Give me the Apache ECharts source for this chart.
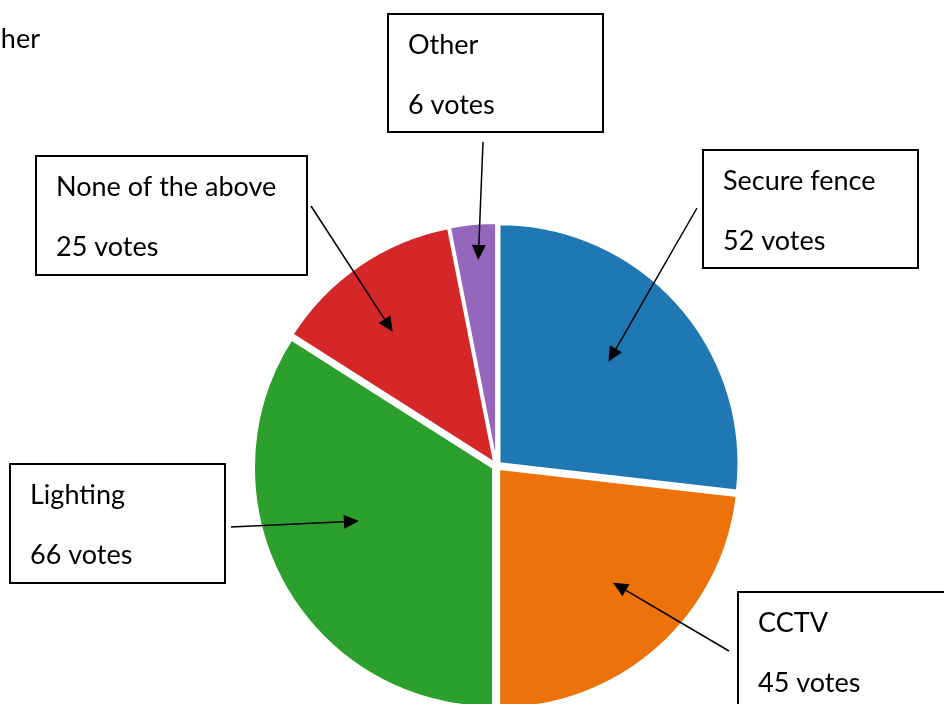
<!DOCTYPE html>
<html><head><meta charset="utf-8">
<script src="https://cdn.jsdelivr.net/npm/echarts@6/dist/echarts.min.js"></script>
<style>html,body{margin:0;padding:0;background:#fff;overflow:hidden}#c{width:944px;height:704px}</style>
</head><body><div id="c"></div>
<script>
// ---- data ----
const categories = ['Secure fence', 'CCTV', 'Lighting', 'None of the above', 'Other'];
const votes = [52, 45, 66, 25, 6];
const voteLabels = ['52 votes', '45 votes', '66 votes', '25 votes', '6 votes'];
const colors = ['#1f77b4', '#ec7209', '#2ca02c', '#d62728', '#9467bd'];

// ---- annotation layout (boxes, arrow tails, arrow tip placement inside slices) ----
const boxes = [[703, 150, 215, 118], [738, 592, 240, 140], [10, 464, 215, 119], [36, 156, 271, 119], [388, 14, 215, 118]];
const tails = [[697, 208], [729, 651], [231, 527], [311, 206], [483, 142]];
const tipFrac = [0.64, 0.69, 0.62, 0.71, 0.865];
const tipDeg = [-1.2, -3.2, 7, -3.4, 0.5];
const FONT = '27px Lato';

const chart = echarts.init(document.getElementById('c'), null, {renderer: 'canvas'});
chart.setOption({
  animation: false,
  backgroundColor: '#fff',
  series: [{
    type: 'pie',
    center: [496.5, 466],
    radius: 239,
    startAngle: 90,
    clockwise: true,
    selectedMode: 'multiple',
    selectedOffset: 4,
    label: {show: false},
    labelLine: {show: false},
    emphasis: {disabled: true},
    itemStyle: {borderColor: '#fff', borderWidth: 2},
    data: categories.map((c, i) => ({name: c, value: votes[i], selected: true, itemStyle: {color: colors[i]}}))
  }]
});

function sliceLayouts() {
  try {
    const d = chart.getModel().getSeriesByIndex(0).getData();
    return votes.map((v, i) => d.getItemLayout(i));
  } catch (e) {
    const tot = votes.reduce((a, b) => a + b, 0);
    let a = -Math.PI / 2;
    return votes.map(v => { const s = a; a += v / tot * Math.PI * 2; return {cx: 496.5, cy: 466, r: 239, startAngle: s, endAngle: a}; });
  }
}

const lays = sliceLayouts();
const els = [];
lays.forEach((L, i) => {
  const mid = (L.startAngle + L.endAngle) / 2 + tipDeg[i] * Math.PI / 180;
  const tx = L.cx + L.r * tipFrac[i] * Math.cos(mid);
  const ty = L.cy + L.r * tipFrac[i] * Math.sin(mid);
  const [sx, sy] = tails[i];
  const dx = tx - sx, dy = ty - sy, len = Math.hypot(dx, dy);
  const ux = dx / len, uy = dy / len;
  const hl = 15, hw = 7;
  const bx = tx - ux * hl, by = ty - uy * hl;
  els.push({type: 'line', silent: true, z: 10, shape: {x1: sx, y1: sy, x2: bx, y2: by}, style: {stroke: '#000', lineWidth: 1.5}});
  els.push({type: 'polygon', silent: true, z: 10, shape: {points: [[tx, ty], [bx - uy * hw, by + ux * hw], [bx + uy * hw, by - ux * hw]]}, style: {fill: '#000'}});
  const [x, y, w, h] = boxes[i];
  els.push({type: 'rect', silent: true, z: 10, shape: {x: x, y: y, width: w, height: h}, style: {fill: '#fff', stroke: '#000', lineWidth: 2}});
  els.push({type: 'text', silent: true, z: 11, style: {text: categories[i], x: x + 20, y: y + 39 - 8, font: FONT, fill: '#000', verticalAlign: 'middle'}});
  els.push({type: 'text', silent: true, z: 11, style: {text: voteLabels[i], x: x + 20, y: y + 99 - 8, font: FONT, fill: '#000', verticalAlign: 'middle'}});
});
els.push({type: 'text', silent: true, z: 11, style: {text: 'her', x: 40, y: 47 - 8, font: FONT, fill: '#000', align: 'right', verticalAlign: 'middle'}});
chart.setOption({graphic: {elements: els}});
</script>
</body></html>
